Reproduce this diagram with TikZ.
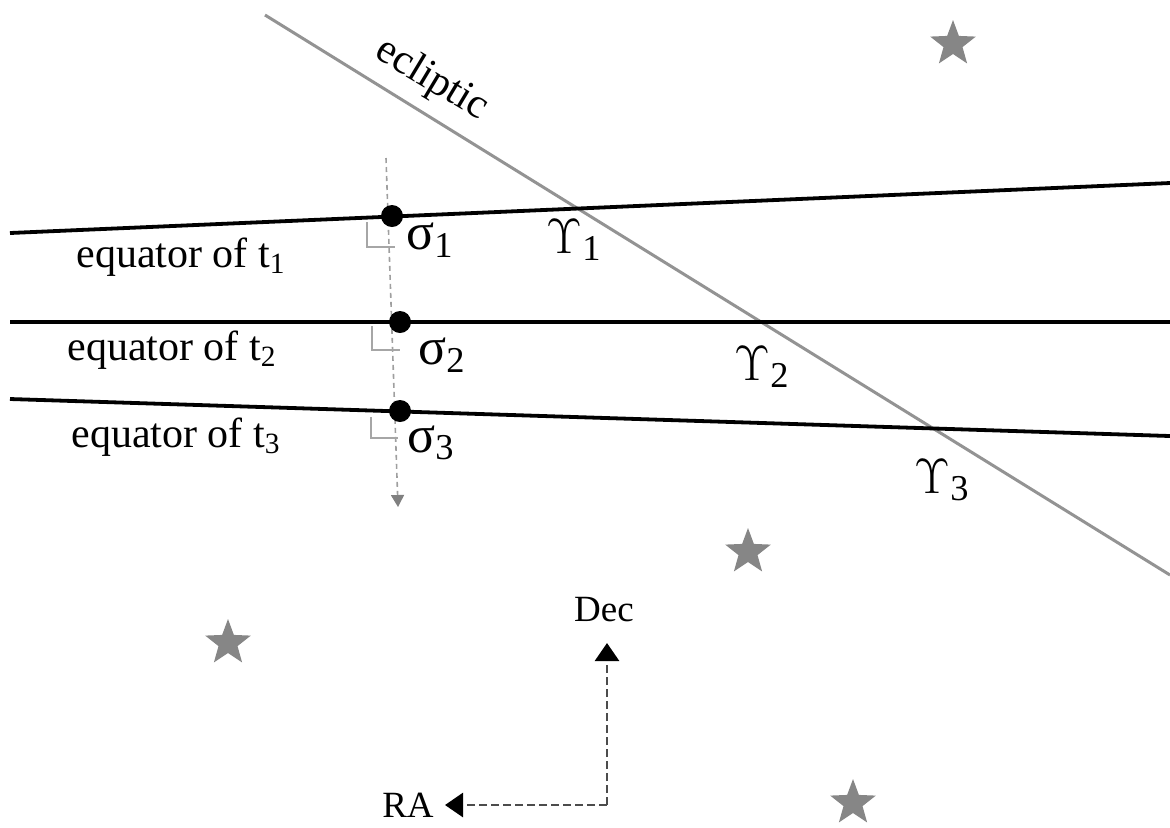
\documentclass[tikz,border=0pt]{standalone}
\usepackage{fontspec}
\setmainfont{Liberation Serif}
\usetikzlibrary{shapes.geometric,arrows.meta}
\newcommand{\sbs}[1]{\textsubscript{#1}}
\begin{document}
\begin{tikzpicture}[x=0.5pt,y=-0.5pt,
  eqline/.style={line width=1.9pt,black},
  ecl/.style={line width=1.5pt,color=gray!85},
  dotnode/.style={circle,fill=black,inner sep=0pt,minimum size=11pt},
  lbl/.style={font=\fontsize{21}{24}\selectfont,inner sep=0pt},
  big/.style={font=\fontsize{26}{30}\selectfont,inner sep=0pt},
  small/.style={font=\fontsize{18.5}{21}\selectfont,inner sep=0pt},
  starnode/.style={star,star points=5,star point ratio=2.4,fill=gray!95,draw=none,minimum size=24pt,inner sep=0pt},
  rmark/.style={line width=0.7pt,color=gray!70},
  dirarrow/.style={dash pattern=on 4pt off 2pt,line width=1.4pt,color=black!70,-{Triangle[length=9pt,width=12pt,color=black]}}
]
\useasboundingbox (0,0) rectangle (1170,827);
% ecliptic
\coordinate (e0) at (265,15);
\coordinate (e1) at (1170,575);
\draw[ecl] (e0) -- (e1);
\node[lbl,rotate=-31] (ecltext) at (432,80) {ecliptic};
% equators
\coordinate (a0) at (10,233);
\coordinate (a1) at (1170,183);
\coordinate (b0) at (10,322);
\coordinate (b1) at (1170,322);
\coordinate (c0) at (10,399);
\coordinate (c1) at (1170,436);
\draw[eqline] (a0) -- (a1);
\draw[eqline] (b0) -- (b1);
\draw[eqline] (c0) -- (c1);
% dashed meridian
\coordinate (m0) at (386,158);
\coordinate (m1) at (398,507);
\draw[dash pattern=on 2.5pt off 2pt,line width=0.8pt,color=gray!75,-{Triangle[length=6pt,width=6.5pt,color=gray]}] (m0) -- (m1);
% right angle marks
\draw[rmark] (367,222) -- (367,247) -- (395,247);
\draw[rmark] (372,326) -- (372,350) -- (400,350);
\draw[rmark] (371,417) -- (371,438) -- (398,438);
% dots
\node[dotnode] (s1) at (392,216) {};
\node[dotnode] (s2) at (400,322) {};
\node[dotnode] (s3) at (400,411) {};
% labels
\node[big] (ls1) at (430,240) {σ\sbs{1}};
\node[big] (ls2) at (442,355) {σ\sbs{2}};
\node[big] (ls3) at (431,443) {σ\sbs{3}};
\node[big] (u1) at (574,240) {$\Upsilon$\sbs{1}};
\node[big] (u2) at (762,367) {$\Upsilon$\sbs{2}};
\node[big] (u3) at (942,480) {$\Upsilon$\sbs{3}};
\node[lbl] (t1) at (181,257) {equator of t\sbs{1}};
\node[lbl] (t2) at (172,350) {equator of t\sbs{2}};
\node[lbl] (t3) at (176,437) {equator of t\sbs{3}};
% stars
\node[starnode] (st1) at (953,44) {};
\node[starnode] (st2) at (748,552) {};
\node[starnode] (st3) at (228,643) {};
\node[starnode] (st4) at (853,803) {};
% RA / Dec
\coordinate (corner) at (607,805);
\coordinate (decend) at (607,643);
\coordinate (raend) at (445,805);
\draw[dirarrow] (corner) -- (decend);
\draw[dirarrow] (corner) -- (raend);
\node[small] (dec) at (604,610) {Dec};
\node[small] (ra) at (408,805) {RA};
\end{tikzpicture}
\end{document}
